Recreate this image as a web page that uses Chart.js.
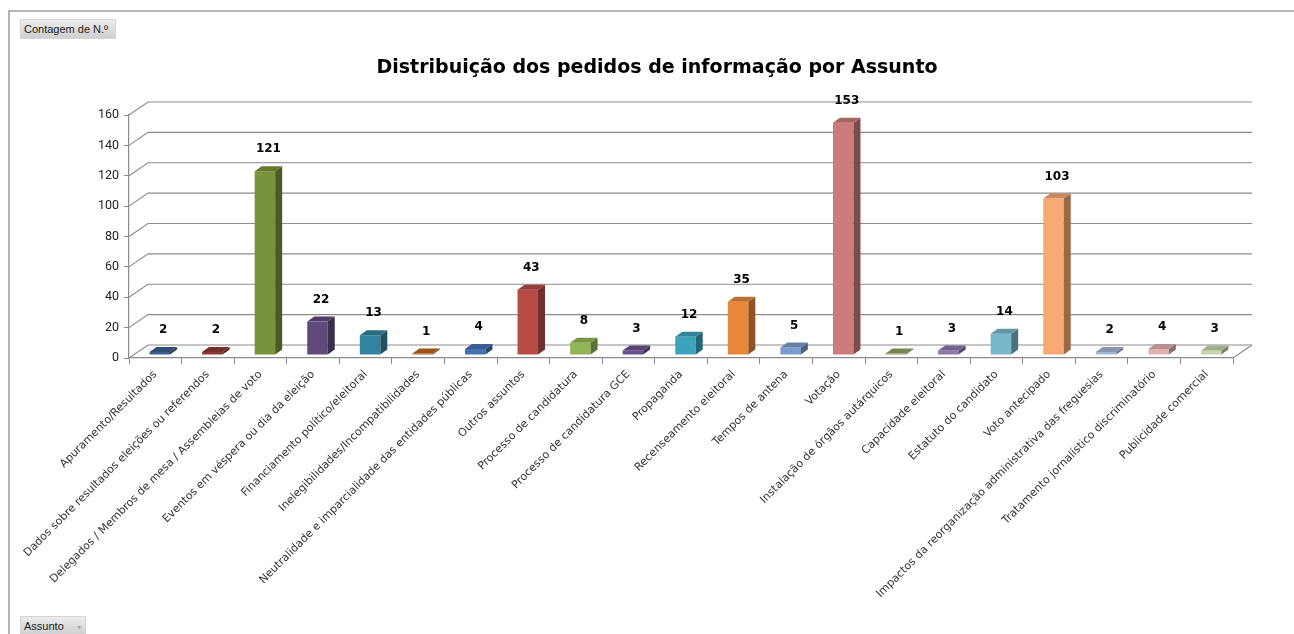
<!DOCTYPE html>
<html>
<head>
<meta charset="utf-8">
<script src="https://cdn.jsdelivr.net/npm/chart.js@4"></script>
<style>
  html, body { margin: 0; padding: 0; background: #fff; }
  #wrap { position: relative; width: 1294px; height: 634px; overflow: hidden; }
  #myChart { position: absolute; left: 0; top: 0; }
  .frame { position: absolute; left: 8px; top: 10px; width: 1300px; height: 640px;
           border-top: 2px solid #b4b4b4; border-left: 2px solid #b4b4b4; }
  .btn { position: absolute; font-family: "Liberation Sans", Arial, sans-serif; font-size: 11px; color: #222;
         background: linear-gradient(#ececec, #cfcfcf); border: 1px solid #d6d6d6; box-sizing: border-box;
         padding: 2px 3px; line-height: 14px; white-space: nowrap; }
  .btn .arr { color: #aaa; font-size: 7px; margin-left: 12px; }
</style>
</head>
<body>
<div id="wrap">
  <canvas id="myChart" width="1294" height="634"></canvas>
  <div class="frame"></div>
  <div class="btn" style="left:20px;top:19px;width:96px;height:20px;">Contagem de N.º</div>
  <div class="btn" style="left:20px;top:616px;width:66px;height:20px;">Assunto<span class="arr">▼</span></div>
</div>
<script>
// Categories (Assunto) and counts
const assuntos = [
    "Apuramento/Resultados",
    "Dados sobre resultados eleições ou referendos",
    "Delegados / Membros de mesa / Assembleias de voto",
    "Eventos em véspera ou dia da eleição",
    "Financiamento político/eleitoral",
    "Inelegibilidades/Incompatibilidades",
    "Neutralidade e imparcialidade das entidades públicas",
    "Outros assuntos",
    "Processo de candidatura",
    "Processo de candidatura GCE",
    "Propaganda",
    "Recenseamento eleitoral",
    "Tempos de antena",
    "Votação",
    "Instalação de órgãos autárquicos",
    "Capacidade eleitoral",
    "Estatuto do candidato",
    "Voto antecipado",
    "Impactos da reorganização administrativa das freguesias",
    "Tratamento jornalístico discriminatório",
    "Publicidade comercial"
];
const contagem = [2, 2, 121, 22, 13, 1, 4, 43, 8, 3, 12, 35, 5, 153, 1, 3, 14, 103, 2, 4, 3];
const barColors = [
    '#3a5f8f', '#8c3836', '#77933c', '#604a7b', '#31849b', '#c0661f', '#4472b0',
    '#b64a44', '#93b453', '#6a5090', '#3ba3bb', '#e8873a', '#7c9ccf', '#cd7b7b',
    '#8fa664', '#8c77ab', '#77b8cc', '#f7a873', '#a6b8d8', '#e0b0b0', '#c6d6aa'
];
const yTicks = [0, 20, 40, 60, 80, 100, 120, 140, 160];

// depth of the fake 3D wall and the bars
const WALL_DX = 19, WALL_DY = 13;
const BAR_SHIFT_X = 4.5, BAR_SHIFT_Y = 3;
const BAR_DX = 7, BAR_DY = 5;

function shade(hex, f) {
    const n = parseInt(hex.slice(1), 16);
    const r = Math.round(((n >> 16) & 255) * f);
    const g = Math.round(((n >> 8) & 255) * f);
    const b = Math.round((n & 255) * f);
    return `rgb(${r},${g},${b})`;
}

// back wall gridlines + left wall diagonals + floor edge
const wallPlugin = {
    id: 'wall',
    beforeDatasetsDraw(chart) {
        const ctx = chart.ctx;
        const area = chart.chartArea;
        const y = chart.scales.y;
        ctx.save();
        ctx.strokeStyle = '#8c8c8c';
        ctx.lineWidth = 1.2;
        yTicks.forEach(v => {
            const py = y.getPixelForValue(v);
            ctx.beginPath();
            ctx.moveTo(area.left, py);
            ctx.lineTo(area.left + WALL_DX, py - WALL_DY);
            ctx.lineTo(area.right + WALL_DX, py - WALL_DY);
            ctx.stroke();
        });
        // right edge of floor
        ctx.beginPath();
        ctx.moveTo(area.right, area.bottom);
        ctx.lineTo(area.right + WALL_DX, area.bottom - WALL_DY);
        ctx.stroke();
        ctx.restore();
    }
};

// draw the 3D columns from the bar elements, plus value labels
const columnsPlugin = {
    id: 'columns3d',
    afterDatasetsDraw(chart) {
        const ctx = chart.ctx;
        const meta = chart.getDatasetMeta(0);
        ctx.save();
        meta.data.forEach((bar, i) => {
            const w = bar.width;
            const x0 = bar.x - w / 2 + BAR_SHIFT_X;
            const top = bar.y - BAR_SHIFT_Y;
            const bottom = bar.base - BAR_SHIFT_Y;
            const col = barColors[i];
            // front
            ctx.fillStyle = col;
            ctx.fillRect(x0, top, w, bottom - top);
            // side
            ctx.fillStyle = shade(col, 0.62);
            ctx.beginPath();
            ctx.moveTo(x0 + w, top);
            ctx.lineTo(x0 + w + BAR_DX, top - BAR_DY);
            ctx.lineTo(x0 + w + BAR_DX, bottom - BAR_DY);
            ctx.lineTo(x0 + w, bottom);
            ctx.closePath();
            ctx.fill();
            // top
            ctx.fillStyle = shade(col, 0.82);
            ctx.beginPath();
            ctx.moveTo(x0, top);
            ctx.lineTo(x0 + BAR_DX, top - BAR_DY);
            ctx.lineTo(x0 + w + BAR_DX, top - BAR_DY);
            ctx.lineTo(x0 + w, top);
            ctx.closePath();
            ctx.fill();
            // value label
            ctx.fillStyle = '#000';
            ctx.font = 'bold 12px "DejaVu Sans"';
            ctx.textAlign = 'center';
            ctx.textBaseline = 'middle';
            ctx.fillText(contagem[i], x0 + w / 2 + BAR_DX / 2, top - 22);
        });
        ctx.restore();
    }
};

let myChart;

document.addEventListener('DOMContentLoaded', function() {
    const ctx = document.getElementById('myChart').getContext('2d');
    myChart = new Chart(ctx, {
        type: 'bar',
        data: {
            labels: assuntos,
            datasets: [{
                label: 'Contagem de N.º',
                data: contagem,
                backgroundColor: 'rgba(0,0,0,0)',
                borderWidth: 0,
                barPercentage: 0.39,
                categoryPercentage: 1
            }]
        },
        options: {
            responsive: false,
            animation: false,
            events: [],
            layout: { padding: { top: 0, right: 0, bottom: 0, left: 20 } },
            plugins: {
                legend: { display: false },
                tooltip: { enabled: false },
                title: {
                    display: true,
                    text: 'Distribuição dos pedidos de informação por Assunto',
                    color: '#000',
                    font: { family: 'DejaVu Sans', size: 19, weight: 'bold' },
                    padding: { top: 57, bottom: 35.2 }
                }
            },
            scales: {
                x: {
                    grid: { drawOnChartArea: false, tickLength: 6, color: '#8c8c8c' },
                    border: { color: '#8c8c8c', width: 1.2 },
                    ticks: {
                        autoSkip: false,
                        minRotation: 45,
                        maxRotation: 45,
                        padding: 4,
                        color: '#333',
                        font: { family: 'DejaVu Sans', size: 11 }
                    },
                    afterFit(scale) { scale.height = 276; }
                },
                y: {
                    min: 0,
                    max: 160,
                    grid: { drawOnChartArea: false, tickLength: 5, color: '#8c8c8c' },
                    border: { color: '#8c8c8c', width: 1.2 },
                    ticks: {
                        stepSize: 20,
                        padding: 5,
                        color: '#222',
                        font: { family: 'Roboto', size: 12.5 }
                    },
                    afterFit(scale) { scale.width = 109; }
                },
                // empty axis that only reserves the space right of the floor
                spacer: {
                    type: 'linear',
                    position: 'right',
                    ticks: { display: false },
                    grid: { display: false },
                    border: { display: false },
                    afterFit(scale) { scale.width = 61; }
                }
            }
        },
        plugins: [wallPlugin, columnsPlugin]
    });
});
</script>
</body>
</html>
